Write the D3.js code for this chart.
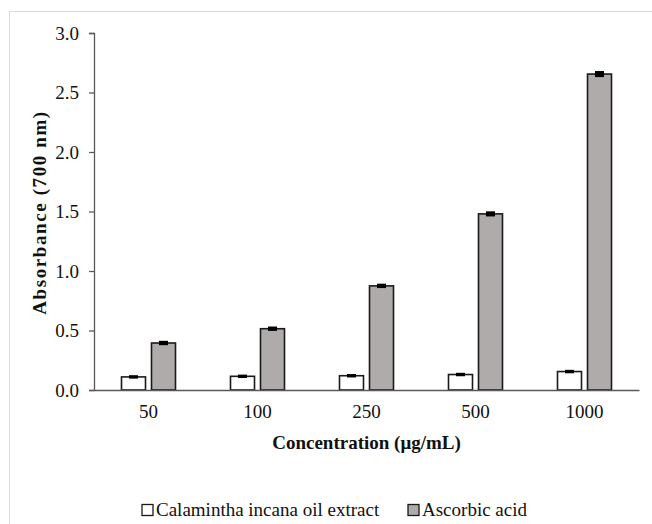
<!DOCTYPE html>
<html>
<head>
<meta charset="utf-8">
<script src="https://cdn.jsdelivr.net/npm/d3@7"></script>
<style>
  body { margin: 0; background: #fff; }
  text { font-family: "Liberation Serif", "Times New Roman", serif; fill: #111; }
</style>
</head>
<body>
<div id="chart"></div>
<script>
const concentrations = ["50", "100", "250", "500", "1000"];
const seriesNames = ["Calamintha incana oil extract", "Ascorbic acid"];
const extractValues = [0.11, 0.115, 0.12, 0.13, 0.155];
const extractErrors = [0.006, 0.006, 0.006, 0.006, 0.006];
const ascorbicValues = [0.395, 0.515, 0.875, 1.48, 2.655];
const ascorbicErrors = [0.01, 0.01, 0.01, 0.013, 0.017];
const yTicks = [0, 0.5, 1, 1.5, 2, 2.5, 3];

const width = 652, height = 524;
const margin = { top: 33, right: 13, bottom: 134, left: 94 };

const svg = d3.select("#chart")
  .append("svg")
  .attr("width", width)
  .attr("height", height);

// light frame around the whole figure
svg.append("rect")
  .attr("x", 9.5).attr("y", 11.5)
  .attr("width", width).attr("height", height)
  .attr("fill", "none")
  .attr("stroke", "#d9d9d9");

const x = d3.scaleBand()
  .domain(concentrations)
  .range([margin.left, width - margin.right]);

const y = d3.scaleLinear()
  .domain([0, 3])
  .range([height - margin.bottom, margin.top]);

const barW = 24, gap = 6;
const groups = [
  { name: seriesNames[0], values: extractValues, errors: extractErrors, fill: "#fff", off: -gap / 2 - barW },
  { name: seriesNames[1], values: ascorbicValues, errors: ascorbicErrors, fill: "#afabaa", off: gap / 2 }
];

// y axis
const yAxis = svg.append("g")
  .attr("transform", `translate(${margin.left},0)`)
  .call(d3.axisLeft(y).tickValues(yTicks).tickFormat(d3.format(".1f")).tickSize(5).tickPadding(10));
yAxis.select(".domain").attr("stroke", "#595959").attr("stroke-width", 1.3);
yAxis.selectAll(".tick line").attr("stroke", "#595959").attr("stroke-width", 1.3);
yAxis.selectAll(".tick text").style("font-size", "19px").attr("fill", "#111");

// bars
groups.forEach(g => {
  svg.append("g")
    .selectAll("rect")
    .data(concentrations)
    .join("rect")
    .attr("x", (d, i) => x(d) + x.bandwidth() / 2 + g.off)
    .attr("y", (d, i) => y(g.values[i]))
    .attr("width", barW)
    .attr("height", (d, i) => y(0) - y(g.values[i]))
    .attr("fill", g.fill)
    .attr("stroke", "#1a1a1a")
    .attr("stroke-width", 1.6);

  // error bars
  const eb = svg.append("g").attr("stroke", "#000").attr("stroke-width", 3);
  eb.selectAll("line.v")
    .data(concentrations)
    .join("line")
    .attr("x1", (d, i) => x(d) + x.bandwidth() / 2 + g.off + barW / 2)
    .attr("x2", (d, i) => x(d) + x.bandwidth() / 2 + g.off + barW / 2)
    .attr("y1", (d, i) => y(g.values[i] - g.errors[i]))
    .attr("y2", (d, i) => y(g.values[i] + g.errors[i]))
    .attr("stroke-width", 1.5);
  eb.selectAll("rect")
    .data(concentrations)
    .join("rect")
    .attr("x", (d, i) => x(d) + x.bandwidth() / 2 + g.off + barW / 2 - 4.5)
    .attr("y", (d, i) => y(g.values[i] + g.errors[i]) - 1)
    .attr("width", 9)
    .attr("height", (d, i) => Math.max(2.5, y(g.values[i] - g.errors[i]) - y(g.values[i] + g.errors[i]) + 2))
    .attr("fill", "#000")
    .attr("stroke", "none");
});

// x axis
const xAxis = svg.append("g")
  .attr("transform", `translate(0,${y(0)})`)
  .call(d3.axisBottom(x).tickSize(0).tickPadding(15));
xAxis.select(".domain").attr("stroke", "#595959").attr("stroke-width", 1.3);
xAxis.selectAll(".tick text").style("font-size", "19px").attr("fill", "#111");

// axis titles
svg.append("text")
  .attr("x", (margin.left + width - margin.right) / 2)
  .attr("y", 449)
  .attr("text-anchor", "middle")
  .style("font-size", "19px")
  .style("font-weight", "bold")
  .text("Concentration (μg/mL)");

svg.append("text")
  .attr("transform", `translate(46,${(y(0) + y(3)) / 2 + 1}) rotate(-90)`)
  .attr("text-anchor", "middle")
  .style("font-size", "19px")
  .style("font-weight", "bold")
  .style("letter-spacing", "1.6px")
  .text("Absorbance (700 nm)");

// legend
const legendX = [142, 408];
const legend = svg.append("g");
groups.forEach((g, i) => {
  legend.append("rect")
    .attr("x", legendX[i]).attr("y", 504.5)
    .attr("width", 11).attr("height", 11)
    .attr("fill", g.fill)
    .attr("stroke", "#1a1a1a")
    .attr("stroke-width", 1.3);
  legend.append("text")
    .attr("x", legendX[i] + 14)
    .attr("y", 516)
    .style("font-size", "19px")
    .text(g.name);
});
</script>
</body>
</html>
